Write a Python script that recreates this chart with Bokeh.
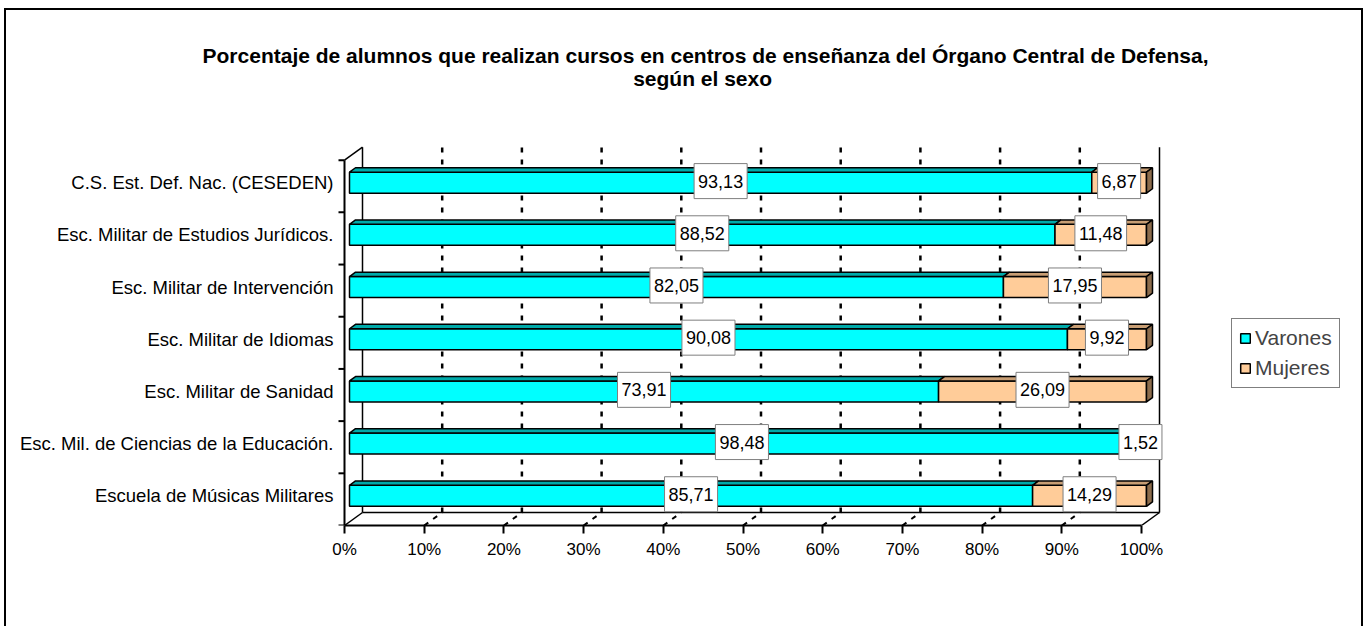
from bokeh.plotting import figure
from bokeh.models import (Range1d, FixedTicker, Label, Legend, LegendItem, InlineStyleSheet)
from bokeh.core.properties import value
from bokeh.embed import file_html
from bokeh.resources import INLINE

# ---------------- data ----------------
categories = [
    "Escuela de Músicas Militares",
    "Esc. Mil. de Ciencias de la Educación.",
    "Esc. Militar de Sanidad",
    "Esc. Militar de Idiomas",
    "Esc. Militar de Intervención",
    "Esc. Militar de Estudios Jurídicos.",
    "C.S. Est. Def. Nac. (CESEDEN)",
]
varones = [85.71, 98.48, 73.91, 90.08, 82.05, 88.52, 93.13]
mujeres = [14.29, 1.52, 26.09, 9.92, 17.95, 11.48, 6.87]
series_names = ["Varones", "Mujeres"]
x_ticks = [0, 10, 20, 30, 40, 50, 60, 70, 80, 90, 100]
x_tick_labels = ["0%", "10%", "20%", "30%", "40%", "50%", "60%", "70%", "80%", "90%", "100%"]
title_lines = [
    "Porcentaje de alumnos que realizan cursos en centros de enseñanza del Órgano Central de Defensa,",
    "según el  sexo",
]

# ---------------- style / geometry ----------------
FONT = "Liberation Sans"
W, H = 1363, 626
AX0 = 344                      # canvas px of the 0% front axis
MR, MT, MB = 13, 30, 101       # panel sizes -> frame
FW, FH = W - MR, H - MT - MB
PX = 7.97      # px per percent
PY = 52.19     # px per category
WDX, WDY = 18 / PX, 13 / PY      # wall depth
BX0, BY0 = 5 / PX, 3.6 / PY      # bar front plane shift
BDX, BDY = 6 / PX, 4.4 / PY      # bar depth
HALF = 10.5 / PY                 # half bar height

C_V_FRONT, C_V_TOP = "#00FFFF", "#00AAAA"
C_M_FRONT, C_M_TOP, C_M_SIDE = "#FFCC99", "#C89E74", "#8C6C4C"

n = len(categories)
y_lo, y_hi = -0.5, n - 0.5
x0v, x1v = x_ticks[0], x_ticks[-1]

p = figure(width=W, height=H,
           x_range=Range1d(-AX0 / PX, (FW - AX0) / PX),
           y_range=Range1d(y_lo, y_lo + FH / PY),
           output_backend="svg", toolbar_location=None, y_axis_location=None,
           min_border_left=0, min_border_right=MR, min_border_top=MT, min_border_bottom=MB)
p.outline_line_color = None
p.xgrid.visible = False
p.ygrid.visible = False
p.background_fill_alpha = 0
p.border_fill_alpha = 0
p.stylesheets = [InlineStyleSheet(css=":host { background: #fff; box-shadow: inset 4px 8px 0 0 #fff, inset 6px 10px 0 0 #000, inset -2px 0 0 0 #000; }")]

# walls (solid edges)
p.segment(x0=[x0v, x0v, x0v + WDX, x1v + WDX, x0v + WDX, x1v],
          y0=[y_hi, y_lo, y_lo + WDY, y_lo + WDY, y_lo + WDY, y_lo],
          x1=[x0v + WDX, x0v + WDX, x0v + WDX, x1v + WDX, x1v + WDX, x1v + WDX],
          y1=[y_hi + WDY, y_lo + WDY, y_hi + WDY, y_hi + WDY, y_lo + WDY, y_lo + WDY],
          line_color="black", line_width=1.5)
# gridlines on back wall and floor
inner = x_ticks[1:-1]
p.segment(x0=[t + WDX for t in inner], y0=[y_lo + WDY] * len(inner),
          x1=[t + WDX for t in inner], y1=[y_hi + WDY] * len(inner),
          line_color="black", line_width=2.5, line_dash="5 7")
p.segment(x0=inner, y0=[y_lo] * len(inner),
          x1=[t + WDX for t in inner], y1=[y_lo + WDY] * len(inner),
          line_color="black", line_width=2, line_dash="5 6")

# category axis (front-left edge): line, boundary ticks, labels
bounds = [i - 0.5 for i in range(n + 1)]
p.segment(x0=[x0v], y0=[y_lo], x1=[x0v], y1=[y_hi], line_color="black", line_width=2)
p.segment(x0=[x0v] * len(bounds), y0=bounds, x1=[x0v - 6 / PX] * len(bounds), y1=bounds,
          line_color="black", line_width=2)
yc = [i + BY0 for i in range(n)]
p.text(x=[x0v - 11 / PX] * n, y=yc, text=categories, text_align="right", text_baseline="middle",
       text_font=value(FONT), text_font_size="18.5px", text_color="black")

# bars
v_left = [BX0] * n
v_right = [BX0 + v for v in varones]
m_right = [BX0 + v + m for v, m in zip(varones, mujeres)]

def top_faces(lefts, rights):
    xs, ys = [], []
    for l, r, y in zip(lefts, rights, yc):
        t = y + HALF
        xs.append([l, r, r + BDX, l + BDX])
        ys.append([t, t, t + BDY, t + BDY])
    return xs, ys

rv = p.hbar(y=yc, left=v_left, right=v_right, height=2 * HALF,
            fill_color=C_V_FRONT, line_color="black", line_width=1.5)
xs, ys = top_faces(v_left, v_right)
p.patches(xs, ys, fill_color=C_V_TOP, line_color="black", line_width=1.5)

rm = p.hbar(y=yc, left=v_right, right=m_right, height=2 * HALF,
            fill_color=C_M_FRONT, line_color="black", line_width=1.5)
xs, ys = top_faces(v_right, m_right)
p.patches(xs, ys, fill_color=C_M_TOP, line_color="black", line_width=1.5)
sxs, sys_ = [], []
for r, y in zip(m_right, yc):
    sxs.append([r, r, r + BDX, r + BDX])
    sys_.append([y - HALF, y + HALF, y + HALF + BDY, y - HALF + BDY])
p.patches(sxs, sys_, fill_color=C_M_SIDE, line_color="black", line_width=1.5)

# data labels
fmt = lambda val: f"{val:.2f}".replace(".", ",")
lab_x = [BX0 + v / 2 for v in varones] + [BX0 + v + m / 2 for v, m in zip(varones, mujeres)]
lab_y = [y + 0.03 for y in yc] * 2
lab_t = [fmt(v) for v in varones] + [fmt(m) for m in mujeres]
for x, y, t in zip(lab_x, lab_y, lab_t):
    p.add_layout(Label(x=x, y=y, text=t, text_align="center", text_baseline="middle",
                       text_font=FONT, text_font_size="18px", text_color="black",
                       background_fill_color="white", border_line_color="#7f7f7f",
                       border_line_width=1, padding=(4, 11)))

# percentage axis
xa = p.xaxis[0]
xa.ticker = FixedTicker(ticks=x_ticks, minor_ticks=[])
xa.major_label_overrides = {t: l for t, l in zip(x_ticks, x_tick_labels)}
xa.bounds = (x0v, x1v)
xa.axis_line_width = 2
xa.major_tick_line_width = 2
xa.major_tick_out = 8
xa.major_tick_in = 0
xa.major_label_standoff = 6
xa.major_label_text_font = FONT
xa.major_label_text_font_size = "17px"
xa.major_label_text_color = "black"

# legend
legend = Legend(items=[LegendItem(label=series_names[0], renderers=[rv]),
                       LegendItem(label=series_names[1], renderers=[rm])],
                location=(1231, (MT + FH) - 388), orientation="vertical",
                border_line_color="black", border_line_width=1,
                background_fill_color="white", background_fill_alpha=1,
                label_text_font=FONT, label_text_font_size="21px",
                glyph_width=12, glyph_height=12, label_standoff=4,
                padding=7, spacing=6, margin=0, label_height=22)
p.add_layout(legend)

# title
for line, yy in zip(title_lines, [55, 78]):
    p.add_layout(Label(x=705, y=(MT + FH) - yy, x_units="screen", y_units="screen", text=line,
                       text_align="center", text_baseline="middle",
                       text_font=FONT, text_font_size="21px", text_font_style="bold",
                       text_color="black"))

open("out.html", "w").write(file_html(p, INLINE))
